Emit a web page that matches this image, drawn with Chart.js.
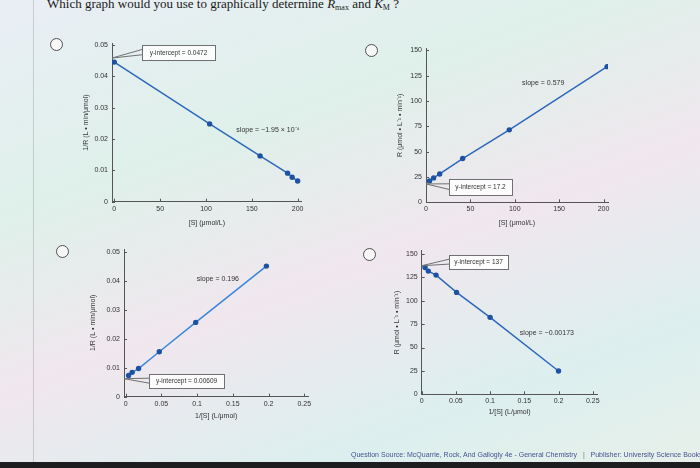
<!DOCTYPE html>
<html>
<head>
<meta charset="utf-8">
<script src="https://cdn.jsdelivr.net/npm/chart.js@4"></script>
<style>
  body { margin: 0; width: 700px; height: 468px; overflow: hidden; position: relative;
         background: linear-gradient(160deg, #e9eef5 0%, #dff0ea 30%, #f0e7ee 55%, #dcefee 80%, #e8f0ea 100%);
         font-family: "Liberation Sans", Arial, sans-serif; }
  canvas { position: absolute; left: 0; top: 0; }
  .q { position: absolute; left: 47px; top: -3px; font: 13px/13px "Liberation Serif", serif; color: #1a1a1a; white-space: nowrap; }
  .q sub { font-size: 8px; vertical-align: -2px; line-height: 0; }
  .radio { position: absolute; width: 11px; height: 11px; border: 1.6px solid #505050; border-radius: 50%; background: #f7f7f7; }
  .src { position: absolute; left: 351px; top: 451px; font-size: 7px; color: #44548f; white-space: nowrap; }
  .src span { color: #777; }
  .edge { position: absolute; left: 33px; top: 0; width: 1px; height: 462px; background: rgba(140,140,140,0.35); }
  .bezel { position: absolute; left: 0; top: 462px; width: 700px; height: 6px; background: #1d1d20; }
</style>
</head>
<body>
<div class="edge"></div>
<div class="q">Which graph would you use to graphically determine <i>R</i><sub>max</sub> and <i>K</i><sub>M</sub> ?</div>
<div class="radio" style="left:50px;top:38px"></div>
<div class="radio" style="left:365px;top:44px"></div>
<div class="radio" style="left:56px;top:245px"></div>
<div class="radio" style="left:363px;top:248px"></div>
<canvas id="c1" width="700" height="468"></canvas>
<canvas id="c2" width="700" height="468"></canvas>
<canvas id="c3" width="700" height="468"></canvas>
<canvas id="c4" width="700" height="468"></canvas>
<div class="src">Question Source: McQuarrie, Rock, And Gallogly 4e - General Chemistry &nbsp;&nbsp;<span>|</span>&nbsp;&nbsp; Publisher: University Science Books</div>
<div class="bezel"></div>
<script>
// 1/R against [S]
const sA = [0, 104, 159, 189, 194, 200];
const invRA = [0.0445, 0.0248, 0.0146, 0.0091, 0.0078, 0.0066];
// R against [S]
const sB = [4, 8.6, 15.4, 41.3, 93.8, 204];
const rB = [21.1, 24.1, 28.0, 43.2, 71.5, 133.9];
// 1/R against 1/[S]
const invSC = [0.004, 0.009, 0.018, 0.047, 0.098, 0.197];
const invRC = [0.0073, 0.0084, 0.0097, 0.0155, 0.0256, 0.0450];
// R against 1/[S]
const invSD = [0.0049, 0.0097, 0.021, 0.051, 0.100, 0.200];
const rD = [135.7, 131.8, 127.5, 109, 82.3, 24.9];

const sTicks = [0, 50, 100, 150, 200];
const invSTicks = [0, 0.05, 0.1, 0.15, 0.2, 0.25];
const invRTicks = [0, 0.01, 0.02, 0.03, 0.04, 0.05];
const rTicks = [0, 25, 50, 75, 100, 125, 150];

const sTitle = '[S] (μmol/L)';
const invSTitle = '1/[S] (L/μmol)';
const invRTitle = '1/R (L • min/μmol)';
const rTitle = 'R (μmol • L⁻¹ • min⁻¹)';

const FONT = 'Liberation Sans';
const LH = 8.4; // 7px font, line height 1.2

// intercept callout, slope text and inward tick marks
const notes = {
  id: 'notes',
  afterDatasetsDraw(chart, args, o) {
    const { ctx, chartArea: a } = chart;
    const x = chart.scales.x, y = chart.scales.y;
    ctx.save();
    ctx.strokeStyle = '#555';
    ctx.lineWidth = 1;
    ctx.beginPath();
    x.ticks.forEach(t => {
      const px = Math.round(x.getPixelForValue(t.value)) + 0.5;
      ctx.moveTo(px, a.bottom); ctx.lineTo(px, a.bottom - 3);
    });
    y.ticks.forEach(t => {
      const py = Math.round(y.getPixelForValue(t.value)) + 0.5;
      ctx.moveTo(a.left, py); ctx.lineTo(a.left + 3, py);
    });
    ctx.stroke();

    const tx = x.getPixelForValue(o.tip[0]), ty = y.getPixelForValue(o.tip[1]);
    const bx = Math.round(tx + o.box[0]), by = Math.round(ty + o.box[1]);
    const bw = o.box[2], bh = o.box[3];
    ctx.strokeStyle = '#707070';
    ctx.beginPath();
    ctx.moveTo(bx, by + bh * 0.3);
    ctx.lineTo(tx, ty);
    ctx.lineTo(bx, by + bh * 0.65);
    ctx.stroke();
    ctx.fillStyle = 'rgba(255,255,255,0.85)';
    ctx.fillRect(bx, by, bw, bh);
    ctx.strokeRect(bx + 0.5, by + 0.5, bw, bh);
    ctx.fillStyle = '#333';
    ctx.font = '6.5px "' + FONT + '"';
    ctx.textAlign = 'center';
    ctx.textBaseline = 'middle';
    ctx.fillText(o.text, bx + bw / 2, by + bh / 2 + 0.5);
    ctx.font = '7px "' + FONT + '"';
    ctx.fillText(o.slope, x.getPixelForValue(o.slopeAt[0]), y.getPixelForValue(o.slopeAt[1]));
    ctx.restore();
  }
};

function axis(ax, size, horizontal) {
  return {
    type: 'linear',
    min: ax.min,
    max: ax.max,
    grid: { display: false, drawTicks: false },
    border: { display: true, color: '#555', width: 1 },
    afterBuildTicks: s => { s.ticks = ax.ticks.map(v => ({ value: v })); },
    afterFit: s => { if (horizontal) s.height = size; else s.width = size; },
    ticks: {
      padding: horizontal ? 3 : 4, maxRotation: 0, autoSkip: false, color: '#333',
      font: { size: 7, family: FONT }, callback: v => String(v)
    },
    title: { display: true, text: ax.title, color: '#333', padding: 0, font: { size: 7, family: FONT } }
  };
}

function panel(id, xs, ys, lay, xAx, yAx, note, lineColor) {
  const padL = lay.yTitleX - LH / 2;
  const padB = 468 - (lay.xTitleY + LH / 2);
  return new Chart(document.getElementById(id), {
    type: 'scatter',
    data: {
      datasets: [{
        data: xs.map((v, i) => ({ x: v, y: ys[i] })),
        showLine: true,
        borderColor: lineColor,
        borderWidth: 1.5,
        pointRadius: 2.7,
        pointBackgroundColor: '#1d52a3',
        pointBorderWidth: 0
      }]
    },
    options: {
      responsive: false,
      animation: false,
      events: [],
      layout: { padding: { left: padL, top: lay.t, right: 700 - lay.r, bottom: padB } },
      plugins: { legend: { display: false }, tooltip: { enabled: false }, notes: note },
      scales: {
        x: axis(xAx, lay.xTitleY + LH / 2 - lay.b, true),
        y: axis(yAx, lay.l - padL, false)
      }
    },
    plugins: [notes]
  });
}

panel('c1', sA, invRA,
  { l: 112, r: 301.7, t: 43.3, b: 201.7, yTitleX: 86, xTitleY: 222.7 },
  { min: -2.5, max: 204.4, ticks: sTicks, title: sTitle },
  { min: 0, max: 0.0505, ticks: invRTicks, title: invRTitle },
  { tip: [-2.5, 0.0458], box: [30, -13, 73, 15], text: 'y-intercept = 0.0472',
    slope: 'slope = −1.95 × 10⁻⁴', slopeAt: [167.6, 0.0229] },
  '#2d68bb');

panel('c2', sB, rB,
  { l: 426, r: 608, t: 48.3, b: 202.3, yTitleX: 400, xTitleY: 222.7 },
  { min: 0, max: 205, ticks: sTicks, title: sTitle },
  { min: 0, max: 152, ticks: rTicks, title: rTitle },
  { tip: [0, 18.1], box: [23, -5, 63, 16], text: 'y-intercept = 17.2',
    slope: 'slope = 0.579', slopeAt: [132, 118] },
  '#2d68bb');

panel('c3', invSC, invRC,
  { l: 124, r: 308.3, t: 249, b: 396.7, yTitleX: 93, xTitleY: 416 },
  { min: -0.0024, max: 0.2557, ticks: invSTicks, title: invSTitle },
  { min: 0, max: 0.0509, ticks: invRTicks, title: invRTitle },
  { tip: [-0.0024, 0.0062], box: [25, -5, 75, 14], text: 'y-intercept = 0.00609',
    slope: 'slope = 0.196', slopeAt: [0.129, 0.0406] },
  '#3a86da');

panel('c4', invSD, rD,
  { l: 421.7, r: 597.3, t: 250.7, b: 394.3, yTitleX: 397, xTitleY: 412 },
  { min: 0, max: 0.2567, ticks: invSTicks, title: invSTitle },
  { min: 0, max: 153.6, ticks: rTicks, title: rTitle },
  { tip: [0, 137.5], box: [27, -10.5, 59, 14], text: 'y-intercept = 137',
    slope: 'slope = −0.00173', slopeAt: [0.183, 65.5] },
  '#2d68bb');
</script>
</body>
</html>
